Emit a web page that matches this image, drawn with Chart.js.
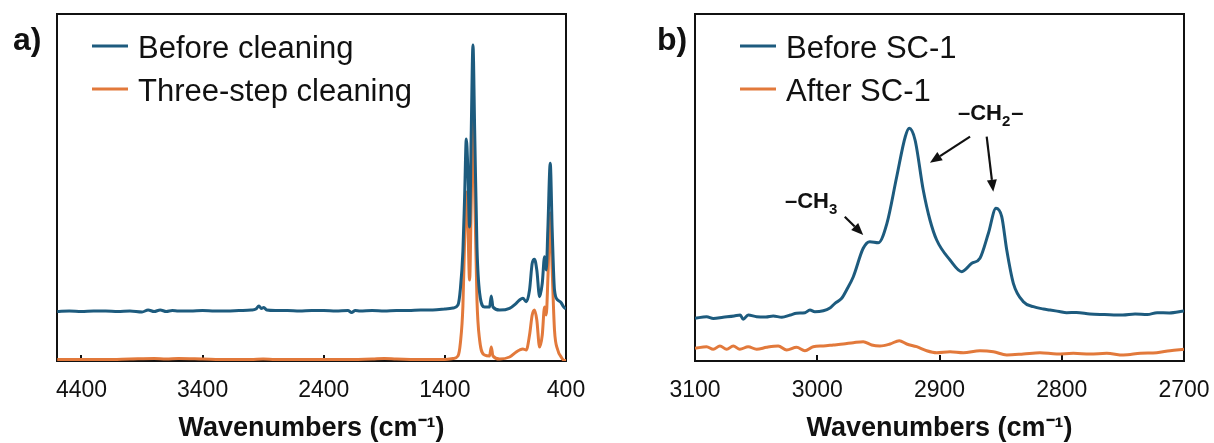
<!DOCTYPE html>
<html><head><meta charset="utf-8">
<script src="https://cdn.jsdelivr.net/npm/chart.js@4/dist/chart.umd.min.js"></script>
<style>
html,body{margin:0;padding:0;background:#fff;}
#wrap{position:relative;width:1214px;height:443px;overflow:hidden;}
canvas{position:absolute;top:0;}
</style></head><body>
<div id="wrap">
<canvas id="ca" width="607" height="443" style="left:0"></canvas>
<canvas id="cb" width="607" height="443" style="left:607px"></canvas>
</div>
<script>
// ---------- Panel a data ----------
const aTicks = [4400, 3400, 2400, 1400, 400];
const aBeforeX = [4600,4500,4400,4300,4200,4100,4000,3900,3850,3800,3750,3700,3650,3600,3500,3400,3300,3200,3100,3000,2960,2935,2915,2895,2870,2800,2700,2600,2500,2400,2300,2200,2170,2140,2100,2000,1900,1800,1700,1600,1500,1400,1333,1292,1272,1251,1237,1223,1210,1196,1182,1168,1154,1135,1113,1072,1031,1017,1003,948,866,811,783,756,728,701,679,660,641,618,596,577,563,550,530,514,495,468,440,421,400];
const aBeforeY = [49.5,50,49.5,50,50,49.5,50,49,51,49.5,51,49.5,50.5,50,50,50.5,50,50,50.5,51,52,55,52.5,53.5,51,50.5,50.5,50,50.5,50.5,50,50.5,48.5,50.5,50,50.5,50,50.5,50.5,51,51,52,53,56,72,110,164,222,191,134,231,316,231,114,68,54,54,65,54,51,52.7,57.7,61,62.7,59.3,71,97.7,101.7,91,64.3,77.7,104.3,91,131,197.7,131,71,61,58.3,54.3,52];
const aAfterX = [4600,4400,4200,4000,3800,3700,3600,3400,3200,3000,2900,2800,2600,2400,2200,2000,1900,1800,1600,1500,1400,1333,1292,1272,1251,1237,1223,1210,1196,1182,1168,1154,1135,1113,1072,1031,1017,1003,948,866,811,783,756,728,701,679,660,641,618,596,577,563,550,530,514,495,468,440,421,400];
const aAfterY = [1.5,1.5,1.5,2,2.5,2,2.5,2,1.5,1.5,2,1.5,1.5,1.5,1.5,2,2.5,2,1.5,1.5,1.5,2.5,5,18,55,121,169,136,81,161,263,171,61,21,6,5,14,5,2,4,9,11,12,11,26,46,51,41,14,26,54,46,81,148,91,31,11,4,1,0.5];
const aLabels = ['Before cleaning', 'Three-step cleaning'];

// ---------- Panel b data ----------
const bTicks = [3100, 3000, 2900, 2800, 2700];
const bBeforeX = [3100,3090.5,3085,3077,3068,3063,3060.6,3056.5,3049.6,3042,3036,3029,3022,3017,3010,3006,3002,2995,2990,2985.5,2980,2976,2970.5,2962.4,2957,2950,2943,2935,2928,2924.7,2920,2913.3,2907.8,2902.3,2891.4,2881.8,2873.6,2866.9,2860,2853.8,2849.1,2845,2839.6,2831.4,2823.2,2815,2809.6,2802,2796,2788,2777,2765,2750,2740,2730,2722,2712,2700];
const bBeforeY = [42.7,44.3,42.5,43.7,45,46,41.7,46,44.3,44,45,43.7,46,47.7,48.3,51,49.3,50.3,52.7,57.7,62.7,71,84.3,112.7,119.3,118.3,137.7,184.3,224.3,232.7,221,171,141,121,101,89.3,97.7,102.7,127.7,152.7,144.3,111,77.7,59.3,54.3,52,51,49.5,48.3,48.5,47,46.5,46,47,46.5,48.3,48,50];
const bAfterX = [3100,3090.5,3085.1,3079.6,3074.1,3068.7,3063.3,3056.5,3049.6,3041.4,3031.9,3025,3016.9,3010.1,3003.3,2995.1,2986.9,2978.7,2970.5,2962.4,2955.5,2948.7,2940.5,2932.9,2926.8,2918.7,2910.5,2902.3,2891.4,2880.5,2866.9,2855.9,2845,2831.4,2817.8,2804.1,2790.5,2776.9,2763.2,2749.6,2735.6,2722.3,2711.4,2700];
const bAfterY = [12.7,14.3,11.7,15,11.7,15,11.7,14.3,11.7,13.7,15,11,13.7,10.3,14.3,15,16,17,18.3,19.3,16,15,17,20.3,17,14.3,10.3,8.3,9.3,8.3,10.3,9.3,6,7,8.3,7,7.7,7,7.7,6,7.7,8.3,10.3,11.7];
const bLabels = ['Before SC-1', 'After SC-1'];

const axisTitle = 'Wavenumbers (cm⁻¹)';
const BLUE = '#1d5b7e';
const ORANGE = '#e2793b';
const FONT = '"Liberation Sans", Arial, Helvetica, sans-serif';

function pts(xs, ys){ return xs.map((x,i)=>({x:x, y:ys[i]})); }

function drawArrow(ctx, x1, y1, x2, y2){
  const ang = Math.atan2(y2-y1, x2-x1), hl = 12, hw = 5;
  const bx = x2 - hl*Math.cos(ang), by = y2 - hl*Math.sin(ang);
  ctx.beginPath(); ctx.moveTo(x1,y1); ctx.lineTo(bx,by); ctx.stroke();
  ctx.beginPath();
  ctx.moveTo(x2,y2);
  ctx.lineTo(bx + hw*Math.sin(ang), by - hw*Math.cos(ang));
  ctx.lineTo(bx - hw*Math.sin(ang), by + hw*Math.cos(ang));
  ctx.closePath(); ctx.fill();
}

function drawChem(ctx, x, y, base, sub, tail){
  ctx.font = 'bold 22px ' + FONT;
  ctx.fillText(base, x, y);
  let w = ctx.measureText(base).width;
  ctx.font = 'bold 15px ' + FONT;
  ctx.fillText(sub, x + w, y + 6);
  w += ctx.measureText(sub).width;
  if (tail){ ctx.font = 'bold 22px ' + FONT; ctx.fillText(tail, x + w + 1, y); }
}

const framePlugin = {
  id: 'frame',
  beforeDatasetsDraw(chart){
    const {ctx, chartArea:a, scales:{x}} = chart;
    ctx.save();
    ctx.strokeStyle = '#111'; ctx.lineWidth = 2;
    ctx.strokeRect(a.left, a.top, a.right-a.left, a.bottom-a.top);
    x.ticks.forEach(t=>{
      if (t.value > x.min && t.value < x.max){
        const px = Math.round(x.getPixelForValue(t.value));
        ctx.beginPath(); ctx.moveTo(px, a.bottom); ctx.lineTo(px, a.bottom-6); ctx.stroke();
      }
    });
    ctx.restore();
  },
  afterDraw(chart, args, o){
    const ctx = chart.ctx;
    ctx.save();
    ctx.fillStyle = '#111';
    ctx.font = 'bold 32px ' + FONT;
    ctx.textBaseline = 'alphabetic';
    ctx.fillText(o.panel, o.panelX, 50);
    chart.data.datasets.forEach((ds, i)=>{
      const ly = 46 + i*43;
      ctx.strokeStyle = ds.borderColor; ctx.lineWidth = 3;
      ctx.beginPath(); ctx.moveTo(o.legX, ly); ctx.lineTo(o.legX+36, ly); ctx.stroke();
      ctx.fillStyle = '#111';
      ctx.font = '31px ' + FONT;
      ctx.fillText(ds.label, o.legX + 46, ly + 12);
    });
    if (o.notes){
      const xs = chart.scales.x, ys = chart.scales.y;
      const P = (wx, wy) => [xs.getPixelForValue(wx), ys.getPixelForValue(wy)];
      ctx.fillStyle = '#111'; ctx.strokeStyle = '#111'; ctx.lineWidth = 2.2;
      o.notes.forEach(n=>{
        const [tx, ty] = P(n.at[0], n.at[1]);
        drawChem(ctx, tx, ty, n.base, n.sub, n.tail);
        n.arrows.forEach(ar=>{
          const [x1,y1] = P(ar[0], ar[1]); const [x2,y2] = P(ar[2], ar[3]);
          drawArrow(ctx, x1, y1, x2, y2);
        });
      });
    }
    ctx.restore();
  }
};

function makeChart(id, labels, series, xmin, xmax, ticks, pad, deco){
  return new Chart(document.getElementById(id), {
    type: 'line',
    data: { datasets: series.map((s,i)=>({
      label: labels[i], data: s, borderColor: i===0?BLUE:ORANGE, backgroundColor: i===0?BLUE:ORANGE,
      borderWidth: 3, pointRadius: 0, cubicInterpolationMode: 'monotone', fill: false
    })) },
    options: {
      responsive: false, animation: false, devicePixelRatio: 1,
      layout: { padding: pad },
      plugins: { legend: {display:false}, tooltip: {enabled:false}, frame: deco },
      scales: {
        x: {
          type: 'linear', min: xmin, max: xmax, reverse: true,
          afterBuildTicks: s => { s.ticks = ticks.map(v=>({value:v})); },
          afterFit: s => { s.height = 82; s.paddingLeft = 0; s.paddingRight = 0; },
          ticks: { autoSkip:false, maxRotation:0, color:'#111', padding: 16,
                   font:{family:FONT, size:23}, callback: v => String(v) },
          grid: { display:false, drawTicks:false },
          border: { display:false },
          title: { display:true, text: axisTitle, color:'#111',
                   font:{family:FONT, size:27, weight:'bold', lineHeight:1.05}, padding:{top:0, bottom:0} }
        },
        y: { display:false, min:0, max:347 }
      }
    },
    plugins: [framePlugin]
  });
}

makeChart('ca', aLabels, [pts(aBeforeX,aBeforeY), pts(aAfterX,aAfterY)], 400, 4602, aTicks,
  {left:57, right:41, top:14, bottom:0},
  {panel:'a)', panelX:13, legX:92});

makeChart('cb', bLabels, [pts(bBeforeX,bBeforeY), pts(bAfterX,bAfterY)], 2700, 3100, bTicks,
  {left:88, right:30, top:14, bottom:0},
  {panel:'b)', panelX:50, legX:133,
   notes:[
     {base:'–CH', sub:'3', tail:'', at:[3026.4,153], arrows:[[2977.5,144.3,2962.4,126]]},
     {base:'–CH', sub:'2', tail:'–', at:[2884.9,241], arrows:[[2875,224.3,2907.8,198.3],[2861.4,224.3,2856,169.3]]}
   ]});
</script>
</body></html>
